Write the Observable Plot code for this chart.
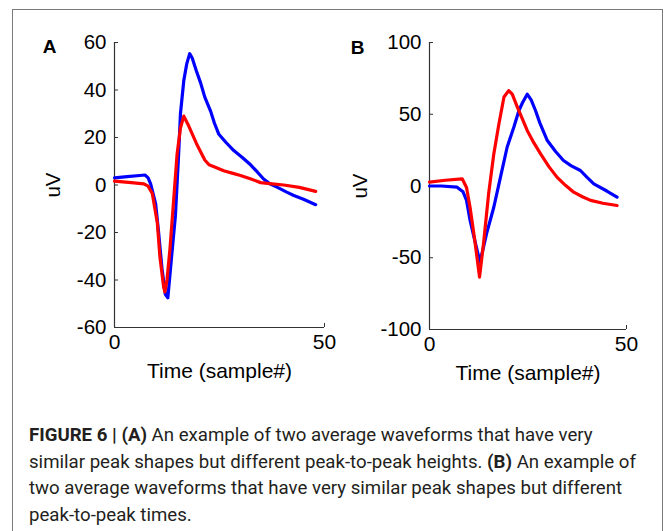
<!DOCTYPE html>
<html>
<head>
<meta charset="utf-8">
<script src="https://cdn.jsdelivr.net/npm/d3@7"></script>
<script src="https://cdn.jsdelivr.net/npm/@observablehq/plot@0.6"></script>
<style>
  html, body { margin: 0; padding: 0; background: #fff; }
  #wrap { position: relative; width: 671px; height: 531px; overflow: hidden; background: #fff; }
  #border { position: absolute; left: 12px; top: 9px; width: 651px; height: 600px; border: 1.5px solid #7a7a7a; box-sizing: border-box; }
  .panel { position: absolute; top: 0; }
  #caption { position: absolute; left: 29px; top: 422px; font-family: Roboto, "Liberation Sans", sans-serif; font-size: 18.65px; line-height: 26.5px; color: #231f20; white-space: nowrap; }
  #caption b { font-weight: 700; }
</style>
</head>
<body>
<div id="wrap">
  <div id="border"></div>
  <div id="panelA" class="panel" style="left:0px"></div>
  <div id="panelB" class="panel" style="left:330px"></div>
  <div id="caption"><b>FIGURE 6 | (A)</b> An example of two average waveforms that have very<br>similar peak shapes but different peak-to-peak heights. <b>(B)</b> An example of<br>two average waveforms that have very similar peak shapes but different<br>peak-to-peak times.</div>
</div>
<script>
// ---- Panel A data ----
const aBlueT = [0, 3, 6, 7.3, 8, 8.6, 9.8, 10.5, 11.3, 12.1, 12.7, 13.5, 14.5, 15.3, 15.7, 16.5, 17.2, 17.9, 18.5, 19.5, 20.5, 21.5, 22.9, 23.8, 24.8, 26.5, 28.4, 30.5, 32.4, 34, 35.5, 37, 38.8, 41, 42.7, 45, 47.9];
const aBlueV = [3, 3.5, 4, 4.2, 3, 0.5, -8, -20, -35, -46, -47.5, -32, -13, 14, 30, 44, 51, 55.3, 53.5, 48, 43, 37, 31, 26, 21.5, 18, 14.5, 11.5, 8.5, 5.5, 2.5, 0.5, -1, -3, -4.4, -6, -8.3];
const aRedT  = [0, 4, 7, 8, 9, 10.2, 10.8, 11.7, 12, 12.5, 13.2, 14.1, 14.9, 15.7, 16.5, 17.5, 18.5, 19.5, 20.5, 21.5, 22.5, 24, 26, 28, 30, 32.5, 34.8, 37.5, 40.3, 44, 47.9];
const aRedV  = [1.6, 1, 0.5, -0.5, -3.6, -16, -30, -43, -45, -40, -27, -6, 13, 24, 29, 25.5, 21.5, 17.5, 14, 10.5, 8.5, 7.5, 6, 5, 4, 2.5, 1, 0.5, 0, -1, -2.7];
const aYTicks = [-60, -40, -20, 0, 20, 40, 60];

// ---- Panel B data ----
const bBlueT = [0, 3, 7, 8.5, 9.4, 10.3, 11.5, 12.8, 13.5, 14.5, 16.3, 18, 19.7, 21.4, 22.7, 23.6, 24.8, 25.8, 26.9, 28, 29.9, 32, 34, 36, 38.3, 40, 41.7, 45, 47.6];
const bBlueV = [0, 0, -0.8, -4, -10, -24, -38, -53, -45, -33, -15, 6, 27, 41, 52.6, 58, 64, 60, 52.6, 44, 31.7, 24, 17.8, 14, 10.8, 6, 1.5, -3.5, -7.8];
const bRedT  = [0, 4, 8.3, 9.4, 10.3, 11.5, 12.7, 13.8, 15, 16.3, 17.6, 18.9, 20.1, 21, 22.3, 24.8, 26.5, 28.2, 30.3, 32.4, 34.5, 36.6, 38.8, 40.9, 44, 47.6];
const bRedV  = [2.7, 4, 5, -1, -15, -38, -63.5, -38, -5.5, 22, 43, 62, 66.5, 64, 55, 38.7, 30, 22.4, 13.5, 6, 0.5, -4.3, -7.5, -10, -12, -13.6];
const bYTicks = [-100, -50, 0, 50, 100];

const xTicks = [0, 50];
const seriesColors = {blue: "#0000ff", red: "#ff0000"};

function toRows(ts, vs) { return ts.map((t, i) => ({t, v: vs[i]})); }

function panel({letter, blue, red, yDomain, yTicks, width, marginLeft, marginRight, marginBottom, letterDx, letterDy, uvDx}) {
  const font = '"Liberation Sans", Arial, sans-serif';
  return Plot.plot({
    width, height: 400,
    marginLeft, marginRight, marginTop: 42, marginBottom,
    style: {fontFamily: font, fontSize: "20px", color: "#000", background: "transparent", overflow: "visible"},
    x: {domain: [0, 50]},
    y: {domain: yDomain},
    marks: [
      Plot.axisX(xTicks, {tickSize: -4, tickPadding: 11, tickFormat: d => String(d), label: null, fontSize: 21, stroke: "#333", fill: "#000"}),
      Plot.axisY(yTicks, {tickSize: -4, tickPadding: 12, tickFormat: d => String(d), label: null, fontSize: 20.5, stroke: "#333", fill: "#000"}),
      Plot.ruleX([0], {stroke: "#333", strokeWidth: 1.2}),
      Plot.ruleY([yDomain[0]], {stroke: "#333", strokeWidth: 1.2}),
      Plot.line(blue, {x: "t", y: "v", stroke: seriesColors.blue, strokeWidth: 3.2, curve: "linear"}),
      Plot.line(red, {x: "t", y: "v", stroke: seriesColors.red, strokeWidth: 3.2, curve: "linear"}),
      Plot.text([letter], {frameAnchor: "top-left", textAnchor: "middle", dx: letterDx, dy: letterDy, fontWeight: "bold", fontSize: 19, fill: "#000"}),
      Plot.text(["uV"], {frameAnchor: "left", textAnchor: "middle", dx: uvDx, rotate: -90, fontSize: 20.5, fill: "#000"}),
      Plot.text(["Time (sample#)"], {frameAnchor: "bottom", textAnchor: "middle", dy: 50, fontSize: 21, fill: "#000"})
    ]
  });
}

document.getElementById("panelA").appendChild(panel({
  letter: "A", blue: toRows(aBlueT, aBlueV), red: toRows(aRedT, aRedV),
  yDomain: [-60, 60], yTicks: aYTicks, width: 340,
  marginLeft: 114, marginRight: 16, marginBottom: 73,
  letterDx: -65, letterDy: -3, uvDx: -61.5
}));
document.getElementById("panelB").appendChild(panel({
  letter: "B", blue: toRows(bBlueT, bBlueV), red: toRows(bRedT, bRedV),
  yDomain: [-100, 100], yTicks: bYTicks, width: 341,
  marginLeft: 99, marginRight: 45, marginBottom: 71,
  letterDx: -72, letterDy: -2, uvDx: -69
}));
</script>
</body>
</html>
